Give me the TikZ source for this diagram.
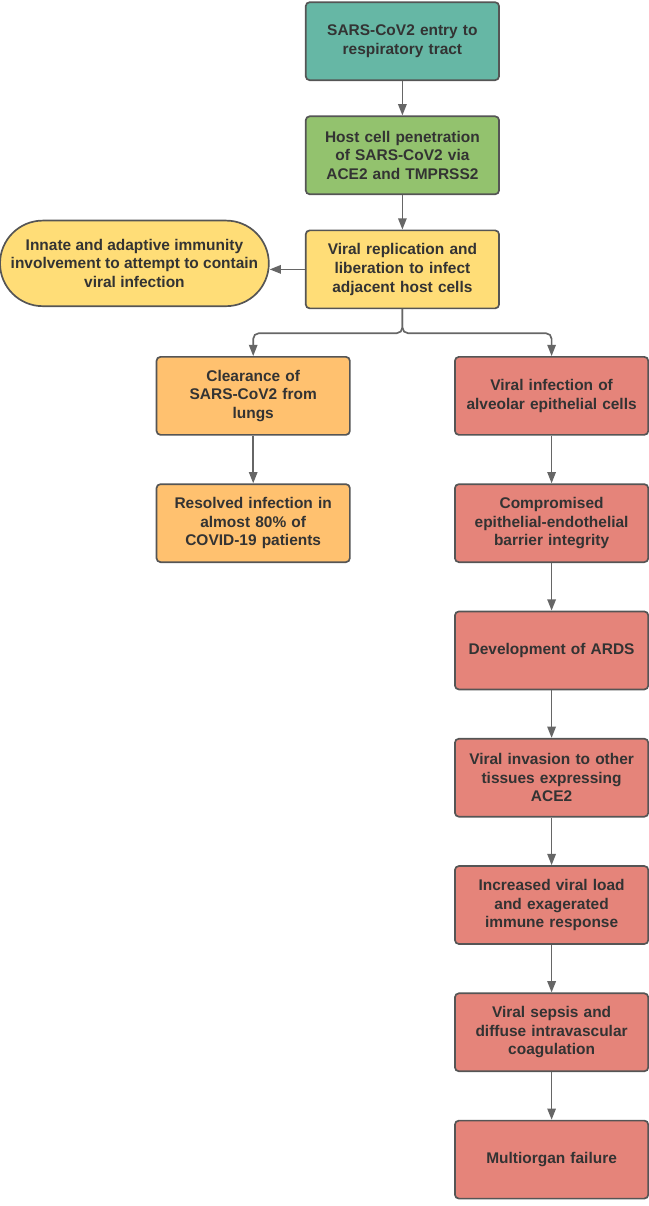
\documentclass[tikz,border=0pt]{standalone}
\usepackage{fontspec}
\setmainfont{Liberation Sans}
\usepackage{tikz}
\usetikzlibrary{arrows.meta, positioning}
\definecolor{tealfill}{HTML}{66B7A5}
\definecolor{greenfill}{HTML}{93C26E}
\definecolor{yellowfill}{HTML}{FFDD77}
\definecolor{orangefill}{HTML}{FFC16F}
\definecolor{redfill}{HTML}{E5847A}
\definecolor{edgegray}{HTML}{555555}
\definecolor{textgray}{HTML}{333333}
\tikzset{
  stepbox/.style={
    draw=edgegray, rectangle, rounded corners=0.1cm,
    minimum width=4.75cm, minimum height=1.95cm,
    text width=4.6cm, align=center, text=textgray,
    font=\fontsize{11}{13.3}\selectfont\bfseries, line width=1.2pt
  },
  immunebox/.style={
    draw=edgegray, rectangle, rounded corners=1.07cm,
    minimum width=6.72cm, minimum height=2.14cm,
    align=center, text=textgray, fill=yellowfill,
    font=\fontsize{11}{13.3}\selectfont\bfseries, line width=1.2pt
  },
  arrow/.style={
    -{Triangle[length=8pt,width=6pt]}, draw=edgegray!90, line width=1.2pt
  },
}

\begin{document}
\begin{tikzpicture}[node distance=0.86cm and 0.88cm]

  \useasboundingbox (0,0) rectangle (16.225,-30.15);

  %%% Common trunk %%%
  \node[stepbox, fill=tealfill] (entry) at (10.06,-1.03)
    {SARS-CoV2 entry to\\ respiratory tract};

  \node[stepbox, fill=greenfill, below=of entry] (penetr)
    {Host cell penetration\\ of SARS-CoV2 via\\ ACE2 and TMPRSS2};

  \node[stepbox, fill=yellowfill, below=of penetr] (replic)
    {Viral replication and\\ liberation to infect\\ adjacent host cells};

  \node[immunebox, left=of replic, yshift=0.15cm] (immune)
    {Innate and adaptive immunity\\ involvement to attempt to contain\\ viral infection};

  %%% Left branch %%%
  \node[stepbox, fill=orangefill, below=1.17cm of replic, xshift=-3.73cm] (clear)
    {Clearance of\\ SARS-CoV2 from\\ lungs};

  \node[stepbox, fill=orangefill, below=1.19cm of clear] (resolved)
    {Resolved infection in\\ almost 80\% of\\ COVID-19 patients};

  %%% Right branch %%%
  \node[stepbox, fill=redfill, below=1.17cm of replic, xshift=3.73cm] (alveol)
    {Viral infection of\\ alveolar epithelial cells};

  \node[stepbox, fill=redfill, below=1.19cm of alveol] (barrier)
    {Compromised\\ epithelial-endothelial\\ barrier integrity};

  \node[stepbox, fill=redfill, below=1.19cm of barrier] (ards)
    {Development of ARDS};

  \node[stepbox, fill=redfill, below=1.19cm of ards] (invasion)
    {Viral invasion to other\\ tissues expressing\\ ACE2};

  \node[stepbox, fill=redfill, below=1.19cm of invasion] (load)
    {Increased viral load\\ and exagerated\\ immune response};

  \node[stepbox, fill=redfill, below=1.19cm of load] (sepsis)
    {Viral sepsis and\\ diffuse intravascular\\ coagulation};

  \node[stepbox, fill=redfill, below=1.19cm of sepsis] (failure)
    {Multiorgan failure};

  %%% Arrows %%%
  \draw[arrow] (entry) -- (penetr);
  \draw[arrow] (penetr) -- (replic);
  \draw[arrow] (replic.west) -- (replic.west -| immune.east);
  \draw[arrow, rounded corners=4pt] (replic.south) -- ++(0,-0.6) -| (clear.north);
  \draw[arrow, rounded corners=4pt] (replic.south) -- ++(0,-0.6) -| (alveol.north);
  \draw[arrow] (clear) -- (resolved);
  \draw[arrow] (alveol) -- (barrier);
  \draw[arrow] (barrier) -- (ards);
  \draw[arrow] (ards) -- (invasion);
  \draw[arrow] (invasion) -- (load);
  \draw[arrow] (load) -- (sepsis);
  \draw[arrow] (sepsis) -- (failure);

\end{tikzpicture}
\end{document}
